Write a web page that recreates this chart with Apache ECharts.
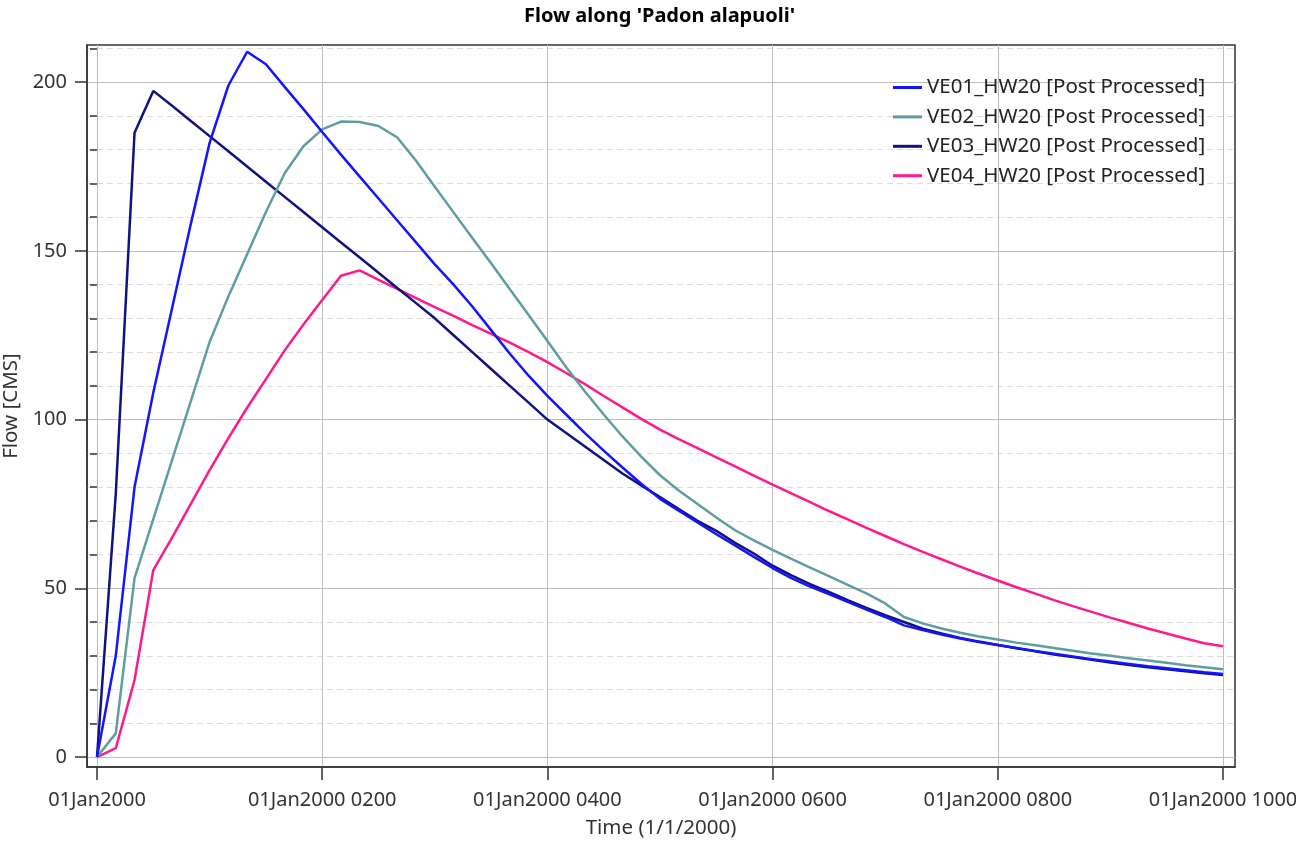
<!DOCTYPE html>
<html>
<head>
<meta charset="utf-8">
<script src="https://cdn.jsdelivr.net/npm/echarts@6.0.0/dist/echarts.min.js"></script>
<style>
  html, body { margin: 0; padding: 0; background: #fff; }
  #main { width: 1296px; height: 841px; }
</style>
</head>
<body>
<div id="main"></div>
<script>
// time in minutes after 01Jan2000 0000
let times = [0, 10, 20, 30, 40, 50, 60, 70, 80, 90, 100, 110, 120, 130, 140, 150, 160, 170, 180, 190,
    200, 210, 220, 230, 240, 250, 260, 270, 280, 290, 300, 310, 320, 330, 340, 350, 360, 370, 380, 390,
    400, 410, 420, 430, 440, 450, 460, 470, 480, 490, 500, 510, 520, 530, 540, 550, 560, 570, 580, 590, 600];

let ve01 = [0, 30, 80, 108, 133, 158, 182, 199, 209, 205.3, 198.6, 192, 185.2, 178.5, 172, 165.5, 159, 152.5, 146, 140,
    133.5, 126.5, 119.5, 113, 107, 101.5, 96, 90.8, 85.8, 81, 76.5, 73, 69.5, 66, 62.7, 59.3, 56, 53, 50.5, 48.3,
    46, 43.7, 41.5, 39, 37.6, 36.3, 35.1, 34.1, 33.2, 32.3, 31.4, 30.6, 29.8, 29, 28.3, 27.6, 26.9, 26.3, 25.7, 25.1, 24.6];

let ve02 = [0, 7, 53, 70.5, 88, 105.5, 123, 136.5, 149, 161.5, 173, 181, 186, 188.3, 188.2, 187, 183.6, 176.7, 169, 161.4,
    153.8, 146.3, 138.6, 131, 123.3, 115.5, 108.3, 101.5, 95, 89, 83.5, 79, 75, 71, 67.2, 64.2, 61.4, 58.7, 56.1, 53.6,
    51, 48.5, 45.5, 41.5, 39.6, 38.1, 36.8, 35.7, 34.8, 33.9, 33.1, 32.3, 31.5, 30.7, 30, 29.3, 28.6, 27.9, 27.2, 26.6, 26];

let ve03 = [0, 78, 185, 197.4, 193, 188.5, 184, 179.5, 175, 170.5, 166, 161.5, 157, 152.5, 148, 143.5, 139, 134.5, 130, 125,
    120, 115, 110, 105, 100, 96, 92, 88, 84, 80.5, 77, 73.5, 70, 67, 63.5, 60.3, 56.7, 53.8, 51.2, 48.9,
    46.5, 44.2, 42, 40, 38, 36.6, 35.3, 34.2, 33.2, 32.2, 31.3, 30.4, 29.6, 28.8, 28, 27.3, 26.6, 26, 25.4, 24.8, 24.3];

let ve04 = [0, 2.6, 22.8, 55.4, 65, 75, 85, 94.5, 103.5, 112, 120.5, 128.2, 135.4, 142.6, 144.2, 141.4, 138.7, 136, 133.3, 130.7,
    128, 125.4, 122.8, 120, 117, 113.8, 110.5, 107, 103.6, 100.2, 97, 94.2, 91.5, 88.8, 86.1, 83.4, 80.7, 78.1, 75.5, 72.9,
    70.4, 67.9, 65.5, 63.1, 60.8, 58.6, 56.4, 54.3, 52.3, 50.3, 48.4, 46.5, 44.7, 43, 41.3, 39.7, 38.1, 36.6, 35.1, 33.7, 32.8];

let seriesNames = ['VE01_HW20 [Post Processed]', 'VE02_HW20 [Post Processed]',
    'VE03_HW20 [Post Processed]', 'VE04_HW20 [Post Processed]'];
let seriesColors = ['#1414ff', '#5f9ea0', '#12127e', '#ff1a8c'];

let xTicks = [0, 120, 240, 360, 480, 600];
let xTickLabels = ['01Jan2000', '01Jan2000 0200', '01Jan2000 0400', '01Jan2000 0600', '01Jan2000 0800', '01Jan2000 1000'];
let yTicks = [0, 50, 100, 150, 200];
let yMinorTicks = [10, 20, 30, 40, 60, 70, 80, 90, 110, 120, 130, 140, 160, 170, 180, 190, 210];

let font = 'Noto Sans';

function pairs(vals) {
    let out = [];
    for (let i = 0; i < times.length; i++) {
        out.push([times[i], vals[i]]);
    }
    return out;
}

function drawf() {
    let myChart = echarts.init(document.getElementById('main'));
    let allVals = [ve01, ve02, ve03, ve04];
    let series = [];
    for (let i = 0; i < allVals.length; i++) {
        series.push({
            name: seriesNames[i],
            type: 'line',
            data: pairs(allVals[i]),
            symbol: 'none',
            showSymbol: false,
            color: seriesColors[i],
            lineStyle: { width: 2.5, color: seriesColors[i] },
            z: 10 - i
        });
    }

    let option = {
        backgroundColor: 'white',
        animation: false,
        title: {
            text: "Flow along 'Padon alapuoli'",
            left: 524,
            top: 6,
            padding: 0,
            textStyle: { fontFamily: font, fontSize: 20, fontWeight: 'bold', color: '#000' }
        },
        legend: {
            orient: 'vertical',
            left: 893,
            top: 76.5,
            padding: 0,
            icon: 'rect',
            itemWidth: 29,
            itemHeight: 3,
            itemGap: 7.4,
            data: seriesNames,
            textStyle: { fontFamily: font, fontSize: 20.5, color: '#222', lineHeight: 22 }
        },
        grid: {
            left: 87,
            right: 61,
            top: 45,
            bottom: 74,
            outerBoundsMode: 'none',
            containLabel: false,
            show: true,
            borderColor: '#333',
            borderWidth: 1.5
        },
        xAxis: {
            type: 'value',
            min: -5.33,
            max: 606.4,
            name: 'Time (1/1/2000)',
            nameLocation: 'middle',
            nameGap: 51,
            nameTextStyle: { fontFamily: font, fontSize: 20.5, color: '#333' },
            axisLine: { show: true, onZero: false, lineStyle: { color: '#333', width: 1.5 } },
            axisTick: { show: true, customValues: xTicks, length: 13, lineStyle: { color: '#333', width: 1.5 } },
            axisLabel: {
                customValues: xTicks,
                margin: 23,
                fontFamily: font,
                fontSize: 20,
                color: '#333',
                formatter: function (v) { return xTickLabels[xTicks.indexOf(v)]; }
            },
            splitLine: { show: true, lineStyle: { color: '#bdbdbd', width: 1 } }
        },
        yAxis: [
            {
                type: 'value',
                min: -2.96,
                max: 211,
                position: 'left',
                name: 'Flow [CMS]',
                nameLocation: 'middle',
                nameGap: 45,
                nameTextStyle: { fontFamily: font, fontSize: 20.5, color: '#333' },
                axisLine: { show: true, onZero: false, lineStyle: { color: '#333', width: 1.5 } },
                axisTick: { show: true, customValues: yTicks, length: 12, lineStyle: { color: '#333', width: 1.5 } },
                axisLabel: { customValues: yTicks, margin: 20, fontFamily: font, fontSize: 20, color: '#333' },
                splitLine: { show: true, lineStyle: { color: '#bdbdbd', width: 1 } }
            },
            {
                type: 'value',
                min: -2.96,
                max: 211,
                position: 'left',
                axisLine: { show: false },
                axisTick: { show: true, customValues: yMinorTicks, length: 7, lineStyle: { color: '#333', width: 1.5 } },
                axisLabel: { show: false, customValues: yMinorTicks },
                splitLine: { show: true, lineStyle: { color: '#dcdcdc', width: 1, type: [6, 4] } }
            }
        ],
        series: series
    };
    myChart.setOption(option);
}

drawf();
</script>
</body>
</html>
